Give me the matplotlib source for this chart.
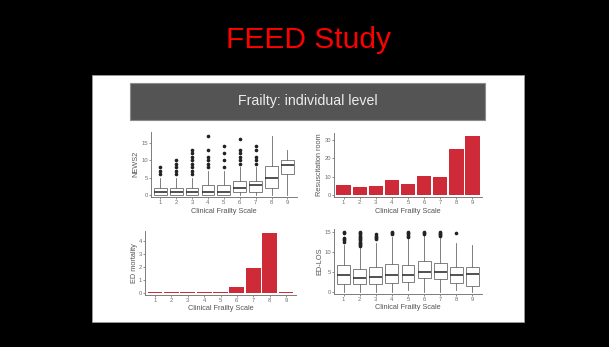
import matplotlib
matplotlib.use("Agg")
import matplotlib.pyplot as plt
from matplotlib.patches import Rectangle

plt.rcParams['font.family'] = ['Liberation Sans', 'DejaVu Sans']

W, H = 609, 347

# ---- data ----
cfs = [1, 2, 3, 4, 5, 6, 7, 8, 9]

# NEWS2 box summaries per Clinical Frailty Scale level
news_whislo = [0, 0, 0, 0, 0, 0, 0, 0, 0]
news_q1 = [0, 0, 0, 0, 0, 1, 1, 2, 6]
news_med = [1, 1, 1, 1, 1, 2, 3, 5, 8.5]
news_q3 = [2, 2, 2, 3, 3, 4, 4, 8.3, 10]
news_whishi = [5, 5, 5, 7, 7, 8, 8, 17, 13]
news_fliers = [
    [6, 7, 8],
    [6, 7, 8, 9, 10],
    [6, 7, 8, 9, 10, 11, 12, 13],
    [8, 9, 10, 11, 13, 17],
    [8, 10, 12, 14],
    [9, 10, 11, 12, 13, 16],
    [9, 10, 11, 13, 14],
    [],
    [],
]

# Resuscitation room (%)
resus = [5.4, 4.5, 4.8, 8.1, 6.3, 10.2, 9.9, 25.0, 31.8]

# ED mortality (%)
mortality = [0.08, 0.08, 0.08, 0.08, 0.08, 0.46, 1.91, 4.57, 0.08]

# ED length of stay (hours) box summaries
los_whislo = [0, 0, 0, 0, 0.4, 0, 0, 0.4, 0]
los_q1 = [2.0, 1.8, 2.0, 2.2, 2.5, 3.5, 3.1, 2.1, 1.3]
los_med = [4.2, 3.5, 3.7, 4.2, 4.2, 5.0, 4.8, 4.2, 4.5]
los_q3 = [6.7, 5.7, 6.2, 7.0, 6.7, 7.7, 7.2, 6.1, 6.1]
los_whishi = [11.7, 10.9, 12.2, 13.8, 13.2, 14.2, 13.4, 12.2, 11.6]
los_fliers = [
    [12.6, 12.9, 13.2, 13.5, 14.8, 15.0],
    [11.4, 11.7, 12.0, 12.3, 12.6, 12.9, 13.2, 13.5, 13.8, 14.1, 14.4, 14.7, 15.0],
    [13.2, 13.5, 13.8, 14.1, 14.4],
    [14.4, 14.7, 15.0],
    [13.8, 14.1, 14.4, 14.7, 15.0],
    [14.5, 14.8, 15.0],
    [13.9, 14.2, 14.5, 14.8, 15.0],
    [14.8],
    [],
]

BAR_RED = '#CF2A37'
AXIS_GREY = '#7c7c7c'
TICK_TXT = '#707070'
TITLE_TXT = '#555555'

fig = plt.figure(figsize=(W / 100, H / 100), dpi=100, facecolor='black')


def rect(l, t, r, b):
    return [l / W, 1 - b / H, (r - l) / W, (b - t) / H]


# white slide panel and header strip
fig.patches.append(Rectangle((92 / W, 1 - 322 / H), (524 - 92) / W, (322 - 75) / H,
                             transform=fig.transFigure, facecolor='white',
                             edgecolor='#9a9a9a', linewidth=0.6, zorder=-10))
fig.patches.append(Rectangle((130 / W, 1 - 120 / H), (485 - 130) / W, (120 - 83) / H,
                             transform=fig.transFigure, facecolor='#545454',
                             edgecolor='#8c8c8c', linewidth=0.8, zorder=-9))

fig.text(308.5 / W, 1 - 40 / H, 'FEED Study', color='#FF0000', fontsize=21.5,
         ha='center', va='center')
fig.text(307.5 / W, 1 - 101.5 / H, 'Frailty: individual level', color='#EDEDED',
         fontsize=10.2, ha='center', va='center')


def style(ax, ylabel, yticks, ylim, xlab_y, ylab_x):
    for s in ('top', 'right'):
        ax.spines[s].set_visible(False)
    for s in ('left', 'bottom'):
        ax.spines[s].set_color(AXIS_GREY)
        ax.spines[s].set_linewidth(0.7)
    ax.set_facecolor('none')
    ax.set_xlim(0.4, 9.6)
    ax.set_ylim(*ylim)
    ax.set_xticks(cfs)
    ax.set_xticklabels([str(c) for c in cfs])
    ax.set_yticks(yticks)
    ax.tick_params(axis='both', length=1.2, width=0.6, color=AXIS_GREY,
                   labelsize=4.2, labelcolor=TICK_TXT, pad=0.9)
    ax.set_xlabel('Clinical Frailty Scale', fontsize=5.3, color=TITLE_TXT, va='center')
    ax.set_ylabel(ylabel, fontsize=5.3, color=TITLE_TXT, va='center')
    ax.xaxis.set_label_coords(0.5, xlab_y)
    ax.yaxis.set_label_coords(ylab_x, 0.5)


def boxes(ax, whislo, q1, med, q3, whishi, fliers):
    stats = []
    for i in range(len(cfs)):
        stats.append(dict(whislo=whislo[i], q1=q1[i], med=med[i], q3=q3[i],
                          whishi=whishi[i], fliers=fliers[i]))
    ax.bxp(stats, positions=cfs, widths=0.8, showcaps=False, patch_artist=True,
           boxprops=dict(facecolor='white', edgecolor='#6a6a6a', linewidth=0.6),
           whiskerprops=dict(color='#6a6a6a', linewidth=0.6),
           medianprops=dict(color='#333333', linewidth=1.2),
           flierprops=dict(marker='o', markerfacecolor='#222222', markeredgecolor='#222222',
                           markersize=1.6, linestyle='none'))


# NEWS2
ax1 = fig.add_axes(rect(150.7, 131.5, 297, 197))
boxes(ax1, news_whislo, news_q1, news_med, news_q3, news_whishi, news_fliers)
style(ax1, 'NEWS2', [0, 5, 10, 15], (-0.5, 18.2), -0.225, -0.10)

# Resuscitation room
ax2 = fig.add_axes(rect(334, 133, 482, 197.3))
ax2.bar(cfs, resus, width=0.9, color=BAR_RED)
style(ax2, 'Resuscitation room', [0, 10, 20, 30], (-1.1, 33.5), -0.225, -0.095)

# ED mortality
ax3 = fig.add_axes(rect(145.3, 231, 295.7, 295.3))
ax3.bar(cfs, mortality, width=0.9, color=BAR_RED)
style(ax3, 'ED mortality', [0, 1, 2, 3, 4], (-0.2, 4.75), -0.21, -0.07)

# ED length of stay
ax4 = fig.add_axes(rect(334, 229, 482, 294.3))
boxes(ax4, los_whislo, los_q1, los_med, los_q3, los_whishi, los_fliers)
style(ax4, 'ED-LOS', [0, 5, 10, 15], (-0.7, 15.75), -0.2, -0.095)

fig.savefig('out.png', dpi=100, facecolor='black')
